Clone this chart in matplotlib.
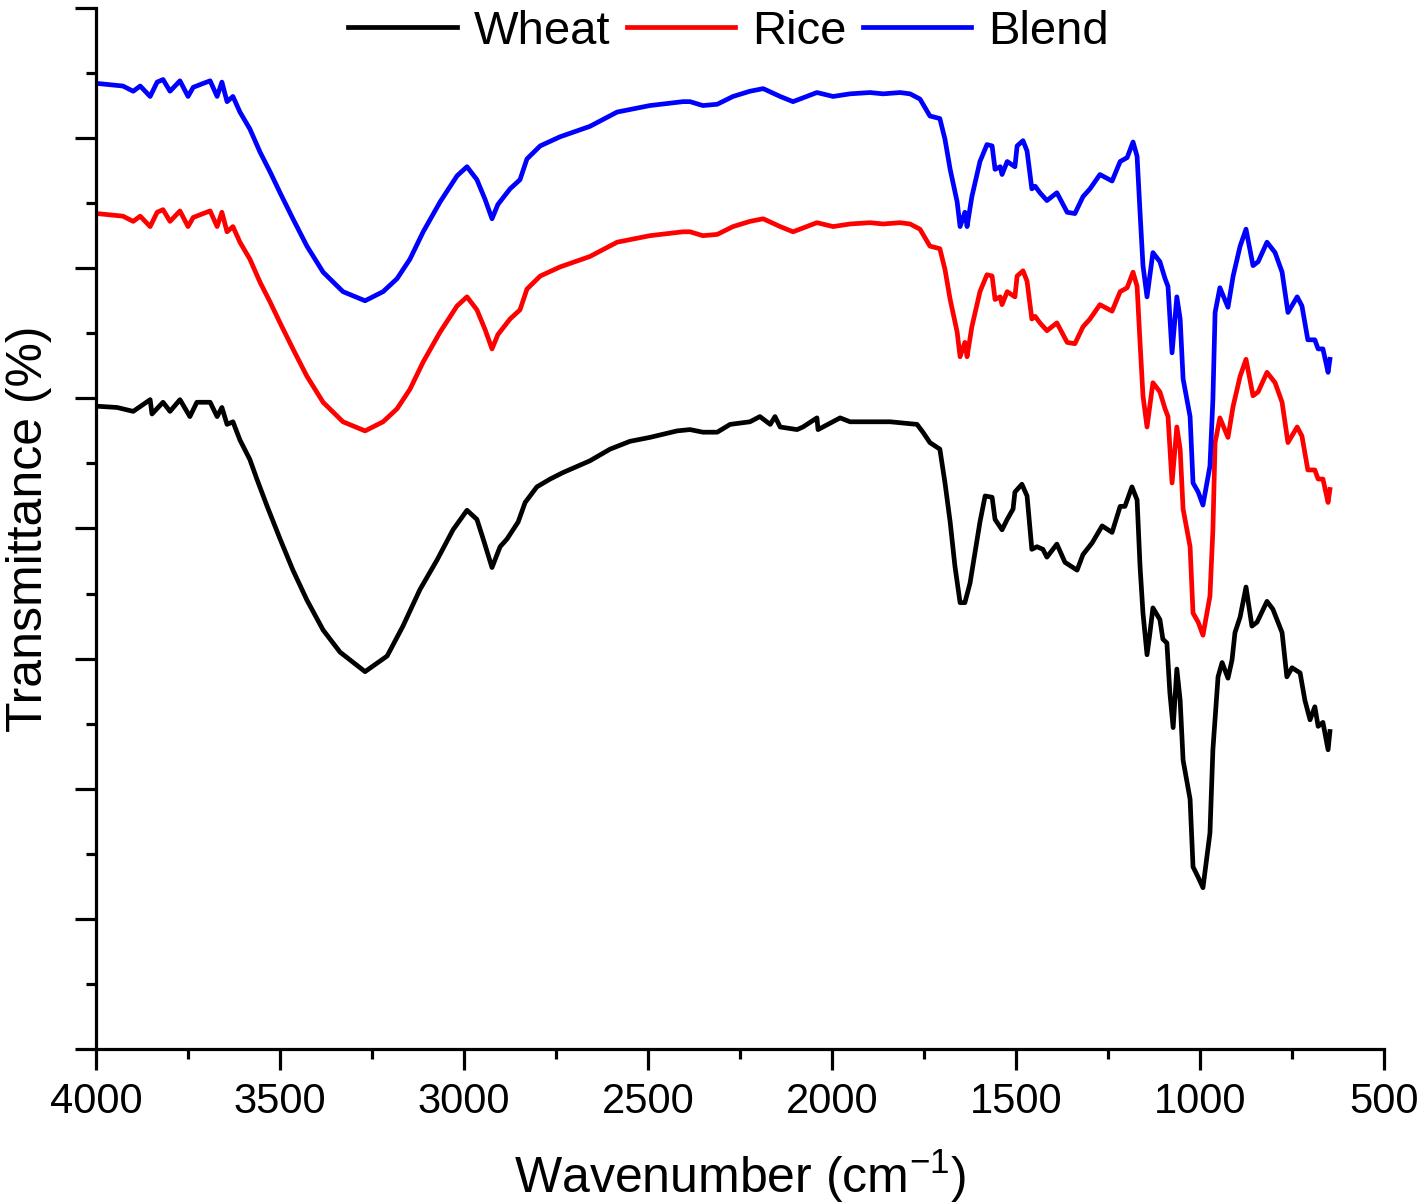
import matplotlib
matplotlib.use("Agg")
import matplotlib.pyplot as plt
from matplotlib.ticker import MultipleLocator


# wheat spectrum (wavenumber in cm-1, transmittance in arbitrary offset units)
WHEAT_WN = [
    4000, 3943, 3899, 3853, 3848, 3818, 3799, 3772, 3745, 3726,
    3690, 3671, 3658, 3644, 3628, 3609, 3582, 3563, 3535, 3500,
    3465, 3427, 3383, 3337, 3269, 3209, 3166, 3120, 3073, 3030,
    2992, 2965, 2948, 2924, 2902, 2883, 2853, 2834, 2802, 2766,
    2731, 2658, 2603, 2549, 2495, 2421, 2386, 2351, 2312, 2277,
    2223, 2196, 2168, 2155, 2141, 2095, 2079, 2041, 2038, 1978,
    1951, 1897, 1842, 1769, 1753, 1734, 1707, 1693, 1679, 1666,
    1652, 1639, 1625, 1598, 1584, 1565, 1557, 1538, 1524, 1508,
    1503, 1484, 1470, 1457, 1443, 1427, 1416, 1389, 1367, 1334,
    1318, 1293, 1266, 1239, 1217, 1204, 1185, 1171, 1163, 1155,
    1144, 1136, 1128, 1109, 1101, 1090, 1082, 1073, 1063, 1054,
    1046, 1027, 1019, 1005, 992, 973, 965, 951, 940, 924,
    913, 905, 891, 875, 859, 845, 818, 802, 777, 764,
    750, 728, 715, 701, 688, 679, 666, 652, 647
]

WHEAT_T = [
    49.4, 49.3, 49.0, 49.9, 48.8, 49.7, 49.0, 49.9, 48.6, 49.7,
    49.7, 48.6, 49.3, 48.0, 48.2, 46.8, 45.3, 43.8, 41.7, 39.2,
    36.8, 34.5, 32.2, 30.5, 29.0, 30.2, 32.5, 35.3, 37.6, 39.9,
    41.4, 40.7, 39.2, 37.0, 38.6, 39.2, 40.5, 42.0, 43.2, 43.8,
    44.3, 45.2, 46.1, 46.7, 47.0, 47.5, 47.6, 47.4, 47.4, 48.0,
    48.2, 48.6, 48.0, 48.6, 47.8, 47.6, 47.8, 48.5, 47.6, 48.5,
    48.2, 48.2, 48.2, 48.0, 47.4, 46.6, 46.1, 43.5, 40.5, 37.1,
    34.3, 34.3, 35.8, 40.5, 42.5, 42.4, 40.7, 39.9, 40.7, 41.5,
    42.8, 43.4, 42.5, 38.4, 38.6, 38.4, 37.8, 38.8, 37.4, 36.8,
    38.0, 38.9, 40.2, 39.7, 41.7, 41.7, 43.2, 42.2, 37.1, 33.5,
    30.3, 32.0, 33.9, 33.0, 31.5, 31.2, 27.4, 24.7, 29.2, 26.8,
    22.2, 19.2, 14.0, 13.2, 12.4, 16.6, 23.0, 28.6, 29.7, 28.5,
    29.9, 32.0, 33.2, 35.5, 32.5, 32.8, 34.4, 33.8, 32.0, 28.6,
    29.3, 28.9, 26.8, 25.3, 26.3, 24.8, 25.1, 23.0, 24.4
]

# rice and blend share the same wavenumber sampling
RICE_BLEND_WN = [
    3997, 3962, 3927, 3899, 3880, 3853, 3834, 3818, 3799, 3772,
    3750, 3736, 3709, 3690, 3671, 3658, 3644, 3628, 3609, 3582,
    3554, 3527, 3500, 3465, 3427, 3383, 3329, 3269, 3220, 3182,
    3147, 3111, 3065, 3019, 2992, 2965, 2943, 2924, 2908, 2875,
    2848, 2829, 2793, 2739, 2658, 2584, 2495, 2405, 2386, 2351,
    2312, 2269, 2223, 2187, 2141, 2106, 2041, 1997, 1951, 1897,
    1861, 1815, 1788, 1761, 1734, 1707, 1693, 1679, 1660, 1652,
    1639, 1633, 1620, 1598, 1579, 1565, 1557, 1543, 1538, 1524,
    1503, 1497, 1481, 1470, 1457, 1448, 1435, 1416, 1389, 1361,
    1340, 1318, 1299, 1272, 1239, 1217, 1198, 1182, 1171, 1163,
    1155, 1144, 1128, 1109, 1095, 1087, 1076, 1063, 1054, 1046,
    1027, 1019, 1005, 992, 973, 965, 959, 946, 924, 910,
    891, 875, 856, 842, 818, 796, 777, 761, 736, 723,
    707, 688, 679, 666, 652, 647
]

RICE_T = [
    64.2, 64.1, 64.0, 63.6, 64.0, 63.2, 64.3, 64.5, 63.6, 64.4,
    63.2, 63.9, 64.2, 64.4, 63.2, 64.3, 62.8, 63.2, 62.0, 60.7,
    58.9, 57.4, 55.8, 53.8, 51.7, 49.7, 48.2, 47.5, 48.2, 49.2,
    50.7, 52.8, 55.1, 57.1, 57.8, 56.8, 55.3, 53.8, 54.9, 56.1,
    56.8, 58.4, 59.4, 60.1, 60.9, 62.0, 62.5, 62.8, 62.8, 62.5,
    62.6, 63.2, 63.6, 63.8, 63.2, 62.8, 63.5, 63.2, 63.4, 63.5,
    63.4, 63.5, 63.4, 63.0, 61.7, 61.5, 59.9, 57.6, 55.1, 53.2,
    54.3, 53.2, 55.5, 58.2, 59.5, 59.4, 57.6, 57.8, 57.2, 58.2,
    57.8, 59.4, 59.8, 59.0, 56.1, 56.3, 55.8, 55.2, 55.8, 54.3,
    54.2, 55.5, 56.1, 57.2, 56.7, 58.2, 58.5, 59.7, 58.6, 54.3,
    50.2, 47.8, 51.2, 50.5, 49.2, 48.6, 43.5, 47.8, 46.1, 41.5,
    38.6, 33.5, 32.8, 31.8, 34.8, 39.9, 46.6, 48.5, 47.0, 49.4,
    51.7, 53.0, 50.2, 50.5, 52.0, 51.2, 49.7, 46.6, 47.8, 47.1,
    44.5, 44.5, 43.8, 43.8, 42.0, 43.0
]

BLEND_T = [
    74.2, 74.1, 74.0, 73.6, 74.0, 73.2, 74.3, 74.5, 73.6, 74.4,
    73.2, 73.9, 74.2, 74.4, 73.2, 74.3, 72.8, 73.2, 72.0, 70.7,
    68.9, 67.4, 65.8, 63.8, 61.7, 59.7, 58.2, 57.5, 58.2, 59.2,
    60.7, 62.8, 65.1, 67.1, 67.8, 66.8, 65.3, 63.8, 64.9, 66.1,
    66.8, 68.4, 69.4, 70.1, 70.9, 72.0, 72.5, 72.8, 72.8, 72.5,
    72.6, 73.2, 73.6, 73.8, 73.2, 72.8, 73.5, 73.2, 73.4, 73.5,
    73.4, 73.5, 73.4, 73.0, 71.7, 71.5, 69.9, 67.6, 65.1, 63.2,
    64.3, 63.2, 65.5, 68.2, 69.5, 69.4, 67.6, 67.8, 67.2, 68.2,
    67.8, 69.4, 69.8, 69.0, 66.1, 66.3, 65.8, 65.2, 65.8, 64.3,
    64.2, 65.5, 66.1, 67.2, 66.7, 68.2, 68.5, 69.7, 68.6, 64.3,
    60.2, 57.8, 61.2, 60.5, 59.2, 58.6, 53.5, 57.8, 56.1, 51.5,
    48.6, 43.5, 42.8, 41.8, 44.8, 49.9, 56.6, 58.5, 57.0, 59.4,
    61.7, 63.0, 60.2, 60.5, 62.0, 61.2, 59.7, 56.6, 57.8, 57.1,
    54.5, 54.5, 53.8, 53.8, 52.0, 53.0
]

SERIES = [
    ("Wheat", WHEAT_WN, WHEAT_T, "#000000"),
    ("Rice", RICE_BLEND_WN, RICE_T, "#ff0000"),
    ("Blend", RICE_BLEND_WN, BLEND_T, "#0000ff"),
]

X_TICKS = [4000, 3500, 3000, 2500, 2000, 1500, 1000, 500]


def main():

    plt.rcParams["font.family"] = [
        "Liberation Sans Narrow",
        "Liberation Sans",
        "DejaVu Sans"
    ]
    plt.rcParams["mathtext.default"] = "regular"

    fig = plt.figure(figsize=(14.23, 12.04), dpi=100)

    ax = fig.add_axes([0.0675, 0.1287, 0.9051, 0.8647])

    for name, wn, t, color in SERIES:
        ax.plot(wn, t, color=color, lw=3.4, label=name,
                solid_joinstyle="round")

    ax.set_xlim(4000, 500)
    ax.set_ylim(0, 80)

    ax.set_xticks(X_TICKS)
    ax.set_xticklabels([str(v) for v in X_TICKS])
    ax.xaxis.set_minor_locator(MultipleLocator(250))

    ax.yaxis.set_major_locator(MultipleLocator(10))
    ax.yaxis.set_minor_locator(MultipleLocator(5))
    ax.set_yticklabels([])

    for side in ["top", "right"]:
        ax.spines[side].set_visible(False)
    for side in ["left", "bottom"]:
        ax.spines[side].set_linewidth(2.3)

    ax.tick_params(which="major", direction="out", length=15,
                   width=2.3, labelsize=30, pad=9)
    ax.tick_params(which="minor", direction="out", length=7.5,
                   width=2.3)

    ax.set_xlabel("Wavenumber (cm$^{-1}$)", fontsize=36, labelpad=18)
    ax.set_ylabel("Transmittance (%)", fontsize=36, labelpad=8)

    ax.legend(
        loc="center",
        bbox_to_anchor=(0.491, 0.977),
        ncol=3,
        frameon=False,
        fontsize=34,
        handlelength=2.3,
        handletextpad=0.35,
        columnspacing=0.35,
        borderpad=0,
        borderaxespad=0
    )

    fig.savefig("out.png", dpi=100)

    plt.close(fig)


if __name__ == "__main__":
    main()
